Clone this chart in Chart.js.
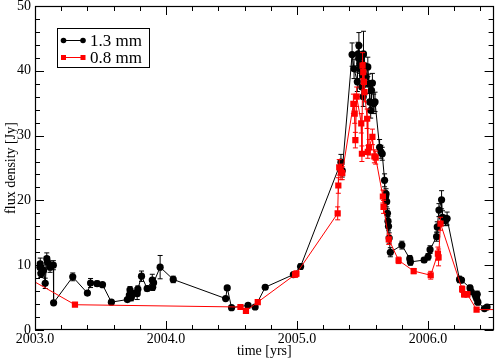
<!DOCTYPE html>
<html><head><meta charset="utf-8">
<script src="https://cdn.jsdelivr.net/npm/chart.js@4"></script>
<style>html,body{margin:0;padding:0;background:#fff}</style>
</head><body>
<canvas id="c" width="498" height="360"></canvas>
<script>
// ---- data ----
const seriesNames = ['1.3 mm', '0.8 mm'];
const blackT = [2003.038,2003.040,2003.045,2003.055,2003.065,2003.078,2003.090,2003.095,2003.115,2003.140,2003.142,2003.288,2003.400,2003.424,2003.474,2003.515,2003.583,2003.705,2003.720,2003.725,2003.735,2003.745,2003.780,2003.785,2003.813,2003.856,2003.895,2003.898,2003.905,2003.955,2004.055,2004.455,2004.467,2004.500,2004.626,2004.680,2004.757,2004.972,2005.027,2005.335,2005.345,2005.420,2005.435,2005.460,2005.466,2005.470,2005.472,2005.478,2005.482,2005.494,2005.500,2005.505,2005.507,2005.515,2005.525,2005.540,2005.548,2005.555,2005.562,2005.568,2005.575,2005.585,2005.595,2005.630,2005.640,2005.650,2005.668,2005.674,2005.679,2005.684,2005.690,2005.694,2005.698,2005.703,2005.712,2005.800,2005.860,2005.865,2005.970,2006.000,2006.015,2006.065,2006.070,2006.083,2006.103,2006.110,2006.133,2006.145,2006.240,2006.255,2006.320,2006.330,2006.360,2006.370,2006.375,2006.380,2006.430,2006.450];
const blackV = [9.7,10.2,8.7,9.0,9.2,7.2,11.0,10.5,9.7,10.0,4.2,8.2,5.7,7.25,7.15,7.0,4.3,4.7,5.4,6.2,5.0,5.6,5.6,6.3,8.3,6.4,7.7,6.6,7.3,9.7,7.8,4.85,6.5,3.45,3.8,3.55,6.6,8.55,9.8,25.9,24.6,42.5,40.3,38.3,42.6,41.9,43.9,41.1,40.3,37.5,39.3,36.0,42.6,40.8,39.0,40.6,38.0,35.2,33.9,37.0,38.1,34.9,35.2,28.2,27.5,27.2,23.1,20.5,21.0,19.8,18.0,16.8,16.0,14.2,12.0,13.1,11.0,10.5,10.8,11.3,12.4,14.4,15.9,18.5,20.1,17.4,16.9,17.2,7.8,7.7,6.5,5.9,5.35,4.85,5.5,4.3,3.3,3.55];
const blackE = [0.8,0.9,0.6,0.7,0.7,0.8,0.9,0.8,0.8,0.7,0.3,0.6,0.3,0.7,0.4,0.3,0.3,0.3,0.5,0.5,0.5,0.5,0.9,0.5,0.8,0.4,0.9,0.5,0.7,1.8,0.5,0.3,0.3,0.3,0.3,0.3,0.3,0.3,0.4,1.2,1.0,1.8,1.5,1.5,1.8,1.6,2.0,1.5,1.5,1.5,1.5,1.5,3.5,1.5,1.5,1.5,1.5,1.5,1.2,1.5,1.5,1.5,1.5,1.2,1.0,1.0,1.0,1.0,0.8,0.8,0.7,0.7,0.7,0.8,0.7,0.6,0.5,0.5,0.4,0.5,0.6,0.7,0.8,1.0,1.4,1.0,0.8,1.0,0.5,0.4,0.4,0.4,0.5,0.8,0.5,0.4,0.3,0.3];
const redT = [2002.900,2003.305,2004.568,2004.610,2004.700,2004.985,2004.995,2005.310,2005.315,2005.322,2005.335,2005.345,2005.430,2005.440,2005.445,2005.455,2005.490,2005.495,2005.500,2005.505,2005.510,2005.515,2005.535,2005.540,2005.550,2005.575,2005.590,2005.600,2005.655,2005.660,2005.700,2005.775,2005.890,2006.020,2006.075,2006.080,2006.095,2006.260,2006.275,2006.300,2006.370,2006.550];
const redV = [8.55,3.9,3.55,2.95,4.3,8.55,8.7,18.0,22.3,25.1,24.4,24.2,34.9,33.4,29.3,36.0,31.9,27.2,40.8,39.8,38.3,36.7,32.6,27.5,28.2,29.8,26.8,26.6,20.6,19.0,14.0,10.75,9.1,8.45,11.8,11.2,16.4,6.3,5.5,5.5,3.15,3.15];
const redE = [0,0.2,0.2,0.3,0.3,0.4,0.4,1.0,1.2,1.2,1.2,1.0,1.5,1.5,1.2,1.5,1.5,1.2,2.0,1.5,1.5,1.5,1.5,1.0,1.2,1.2,1.0,1.0,1.0,1.0,0.8,0.5,0.4,0.6,1.0,1.3,1.0,0.5,0.4,0.4,0.3,0];
const xMajorTicks = [2003.0, 2004.0, 2005.0, 2006.0];
const yTickLabels = [0, 10, 20, 30, 40, 50];
const xTitle = 'time [yrs]';
const yTitle = 'flux density [Jy]';

const SERIF = '"Liberation Serif", "Times New Roman", serif';

const errorBars = {
  id: 'errorBars',
  beforeDatasetDraw(chart, args) {
    const ds = chart.data.datasets[args.index];
    if (!ds.errors) return;
    const {ctx, chartArea: a, scales: {x, y}} = chart;
    ctx.save();
    ctx.beginPath(); ctx.rect(a.left, a.top, a.right - a.left, a.bottom - a.top); ctx.clip();
    ctx.strokeStyle = ds.errorColor; ctx.lineWidth = 1;
    ds.data.forEach((p, i) => {
      const e = ds.errors[i]; if (!e) return;
      const px = x.getPixelForValue(p.x);
      const y1 = y.getPixelForValue(p.y + e), y2 = y.getPixelForValue(p.y - e);
      ctx.beginPath();
      ctx.moveTo(px, y1); ctx.lineTo(px, y2);
      ctx.moveTo(px - 2.5, y1); ctx.lineTo(px + 2.5, y1);
      ctx.moveTo(px - 2.5, y2); ctx.lineTo(px + 2.5, y2);
      ctx.stroke();
    });
    ctx.restore();
  }
};

const frameTicks = {
  id: 'frameTicks',
  afterDraw(chart) {
    const {ctx, chartArea: a, scales: {x, y}} = chart;
    ctx.save();
    ctx.strokeStyle = '#000'; ctx.lineWidth = 1;
    ctx.beginPath();
    for (let k = 0; k <= 17; k++) {
      const v = x.min + k * 0.2;
      if (v > x.max + 1e-9) break;
      const major = xMajorTicks.some(m => Math.abs(m - v) < 1e-6);
      const len = major ? 9 : 5;
      const px = Math.round(x.getPixelForValue(v)) + 0.5;
      ctx.moveTo(px, a.bottom); ctx.lineTo(px, a.bottom - len);
      ctx.moveTo(px, a.top); ctx.lineTo(px, a.top + len);
    }
    for (let v = y.min; v <= y.max + 1e-9; v += 2) {
      const major = yTickLabels.includes(Math.round(v)) ;
      const len = major ? 9 : 5;
      const py = Math.round(y.getPixelForValue(v)) + 0.5;
      ctx.moveTo(a.left, py); ctx.lineTo(a.left + len, py);
      ctx.moveTo(a.right, py); ctx.lineTo(a.right - len, py);
    }
    ctx.stroke();
    ctx.lineWidth = 1.2;
    ctx.strokeRect(Math.round(a.left) + 0.5, Math.round(a.top) + 0.5, Math.round(a.right - a.left) - 1, Math.round(a.bottom - a.top) - 1);
    // legend box
    ctx.fillStyle = '#fff'; ctx.fillRect(57.5, 28.5, 92, 39);
    ctx.lineWidth = 1; ctx.strokeStyle = '#000'; ctx.strokeRect(57.5, 28.5, 92, 39);
    chart.data.datasets.forEach((ds, i) => {
      const yy = 40.5 + i * 17;
      ctx.strokeStyle = ds.borderColor; ctx.lineWidth = 1;
      ctx.beginPath(); ctx.moveTo(63, yy); ctx.lineTo(83, yy); ctx.stroke();
      ctx.fillStyle = ds.backgroundColor;
      for (const xx of [63.5, 83]) {
        if (ds.pointStyle === 'rect') ctx.fillRect(xx - 2.5, yy - 2.5, 5, 5);
        else { ctx.beginPath(); ctx.arc(xx, yy, 2.8, 0, 2 * Math.PI); ctx.fill(); }
      }
      ctx.fillStyle = '#000'; ctx.font = '17px ' + SERIF; ctx.textBaseline = 'middle'; ctx.textAlign = 'left';
      ctx.fillText(ds.label, 90, yy + 1);
    });
    ctx.restore();
  }
};

const toPts = (T, V) => T.map((t, i) => ({x: t, y: V[i]}));

new Chart(document.getElementById('c'), {
  type: 'line',
  data: {
    datasets: [
      {label: seriesNames[0], data: toPts(blackT, blackV), errors: blackE, errorColor: '#000000',
       borderColor: '#000000', backgroundColor: '#000000', borderWidth: 1,
       pointStyle: 'circle', pointRadius: 3.6, pointBorderWidth: 0, clip: 0, order: 2},
      {label: seriesNames[1], data: toPts(redT, redV), errors: redE, errorColor: '#ff0000',
       borderColor: '#ff0000', backgroundColor: '#ff0000', borderWidth: 1,
       pointStyle: 'rect', pointRadius: 4.4, pointBorderWidth: 0, clip: 0, order: 1}
    ]
  },
  options: {
    responsive: false, animation: false,
    layout: {padding: {top: 6, right: 1, left: 0, bottom: 0}},
    plugins: {legend: {display: false}, tooltip: {enabled: false}},
    elements: {line: {tension: 0}},
    scales: {
      x: {
        type: 'linear', min: 2003, max: 2006.5,
        grid: {display: false, drawTicks: false, tickLength: 0}, border: {display: false},
        ticks: {stepSize: 0.2, autoSkip: false, maxRotation: 0, padding: 1, color: '#000',
          font: {family: SERIF, size: 14},
          callback: v => xMajorTicks.some(m => Math.abs(m - v) < 1e-6) ? Number(v).toFixed(1) : ''},
        title: {display: true, text: xTitle, color: '#000', font: {family: SERIF, size: 14}, padding: {top: 0, bottom: 0}},
        afterFit: s => { s.height = 30; s.paddingLeft = 0; s.paddingRight = 0; }
      },
      y: {
        type: 'linear', min: 0, max: 50,
        grid: {display: false, drawTicks: false, tickLength: 0}, border: {display: false},
        ticks: {stepSize: 10, padding: 4, color: '#000', font: {family: SERIF, size: 14},
          callback: v => yTickLabels.includes(v) ? String(v) : ''},
        title: {display: true, text: yTitle, color: '#000', font: {family: SERIF, size: 14}, padding: {top: 3, bottom: 0}},
        afterFit: s => { s.width = 35; s.paddingTop = 0; s.paddingBottom = 0; }
      }
    }
  },
  plugins: [errorBars, frameTicks]
});
</script>
</body></html>
